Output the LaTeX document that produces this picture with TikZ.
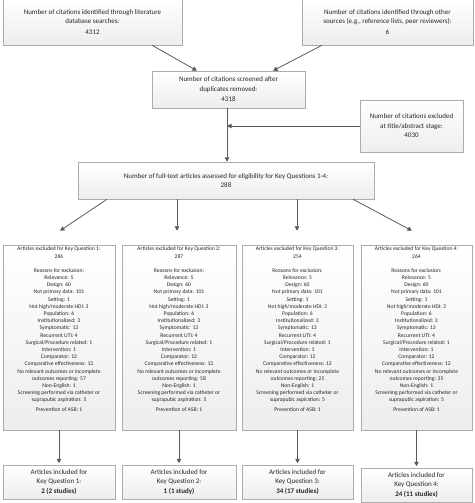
\documentclass[tikz,border=0pt]{standalone}
\usepackage{fontspec}
\setmainfont{Carlito}
\usetikzlibrary{arrows.meta,shadows,calc}
\newcommand\myexcl[3]{Articles excluded for Key Question #1:\\#2\\[7pt]Reasons for exclusion:\\Relevance: 5\\Design: 60\\Not primary data: 101\\Setting: 1\\Not high/moderate HDI: 3\\Population: 6\\Institutionalized: 3\\Symptomatic: 13\\Recurrent UTI: 4\\Surgical/Procedure related: 1\\Intervention: 1\\Comparator: 12\\Comparative effectiveness: 12\\No relevant outcomes or incomplete\\outcomes reporting: #3\\Non-English: 1\\Screening performed via catheter or\\suprapubic aspiration: 5\\[2.5pt]Prevention of ASB: 1}
\tikzset{
  box/.style={draw=gray!65, line width=0.5pt, top color=white, bottom color=gray!14,
    drop shadow={shadow xshift=1.2pt, shadow yshift=-1.2pt, fill=gray!45, opacity=0.7},
    inner sep=0pt, align=center, text=black!85},
  bigtxt/.style={font=\fontsize{7}{9.5}\selectfont},
  smalltxt/.style={font=\fontsize{5.6}{7.2}\selectfont, align=center, text=black!85, inner sep=0pt},
  arr/.style={draw=black!65, line width=0.8pt, -{Triangle[length=4.5pt,width=4.5pt]}},
}
\begin{document}
\begin{tikzpicture}[x=1pt,y=-1pt]
\useasboundingbox (0,0) rectangle (474,503);
% top boxes
\node[box,bigtxt,minimum width=179pt,minimum height=46pt] (A) at (92.5,22)
  {Number of citations identified through literature\\database searches:\\[1pt]4312};
\node[box,bigtxt,minimum width=171pt,minimum height=46pt] (B) at (387.5,22)
  {Number of citations identified through other\\sources (e.g., reference lists, peer reviewers):\\[1pt]6};
\node[box,bigtxt,minimum width=153pt,minimum height=37pt] (C) at (228.5,89.5)
  {Number of citations screened after\\duplicates removed:\\[1pt]4318};
\node[box,bigtxt,minimum width=103pt,minimum height=52pt] (D) at (411.5,126)
  {Number of citations excluded\\at title/abstract stage:\\4030};
\node[box,bigtxt,minimum width=296pt,minimum height=37pt] (E) at (226,180.5)
  {Number of full-text articles assessed for eligibility for Key Questions 1-4:\\288};
% exclusion boxes
\node[box,minimum width=112pt,minimum height=185pt] (F1) at (59,337.5) {};
\node[box,minimum width=114pt,minimum height=185pt] (F2) at (179,337.5) {};
\node[box,minimum width=111pt,minimum height=185pt] (F3) at (297.5,337.5) {};
\node[box,minimum width=111pt,minimum height=185pt] (F4) at (416.5,337.5) {};
\node[smalltxt,anchor=north] (T1) at ([yshift=-2pt]F1.north) {\myexcl{1}{286}{57}};
\node[smalltxt,anchor=north] (T2) at ([yshift=-2pt]F2.north) {\myexcl{2}{287}{58}};
\node[smalltxt,anchor=north] (T3) at ([yshift=-2pt]F3.north) {\myexcl{3}{254}{25}};
\node[smalltxt,anchor=north] (T4) at ([yshift=-2pt]F4.north) {\myexcl{4}{264}{35}};
% included boxes
\node[box,bigtxt,minimum width=112pt,minimum height=34pt] (G1) at (59,482)
  {Articles included for\\Key Question 1:\\\textbf{2 (2 studies)}};
\node[box,bigtxt,minimum width=114pt,minimum height=34pt] (G2) at (179,482)
  {Articles included for\\Key Question 2:\\\textbf{1 (1 study)}};
\node[box,bigtxt,minimum width=111pt,minimum height=34pt] (G3) at (297.5,482)
  {Articles included for\\Key Question 3:\\\textbf{34 (17 studies)}};
\node[box,bigtxt,minimum width=111pt,minimum height=34pt] (G4) at (416.5,485)
  {Articles included for\\Key Question 4:\\\textbf{24 (11 studies)}};
% connectors
\coordinate (cv) at ([xshift=-1.5pt]C.south);
\draw[arr] ([xshift=59.5pt]A.south) -- ([xshift=-31.5pt]C.north);
\draw[arr] ([xshift=-65.5pt]B.south) -- ([xshift=44.5pt]C.north);
\draw[arr] (cv) -- (cv |- E.north);
\draw[arr] (D.west) -- (D.west -| cv);
\draw[arr] ([xshift=-119pt]E.south) -- ([xshift=1pt,yshift=14pt]F1.north);
\draw[arr] ([xshift=-49pt]E.south) -- ([xshift=-2pt,yshift=14pt]F2.north);
\draw[arr] ([xshift=71pt]E.south) -- ([xshift=-0.5pt,yshift=14pt]F3.north);
\draw[arr] ([xshift=127pt]E.south) -- ([xshift=-4.5pt,yshift=14pt]F4.north);
\draw[arr] (F1.south) -- ([yshift=1.5pt]G1.north);
\draw[arr] (F2.south) -- ([yshift=1.5pt]G2.north);
\draw[arr] (F3.south) -- ([yshift=1.5pt]G3.north);
\draw[arr] (F4.south) -- ([yshift=1.5pt]G4.north);
\end{tikzpicture}
\end{document}
